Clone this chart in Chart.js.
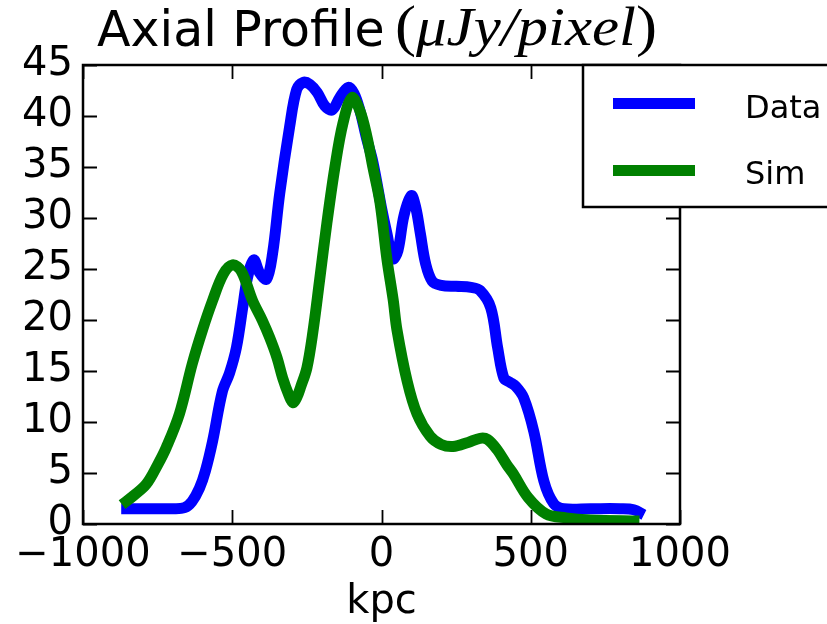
<!DOCTYPE html>
<html>
<head>
<meta charset="utf-8">
<script src="https://cdn.jsdelivr.net/npm/chart.js@4"></script>
<style>
html,body{margin:0;padding:0;background:#fff;}
#wrap{width:827px;height:624px;position:relative;}
</style>
</head>
<body>
<div id="wrap"><canvas id="c" width="827" height="624"></canvas></div>
<script>
// ---- data ----
const dataX = [-872,-800,-700,-660,-635,-610,-590,-566,-533,-509,-486,-465,-450,-428,-408,-385,-365,-341,-308,-284,-262,-240,-215,-190,-165,-140,-112,-92,-72,-50,-29,0,18,38,55,75,100,115,130,148,170,200,250,300,330,366,389,410,430,450,476,510,544,577,610,700,800,845,879];
const dataY = [1.5,1.5,1.5,1.6,2.2,3.5,5.2,8.1,13,14.8,17.3,21.2,24,25.9,24.6,24,26.5,32.4,38.9,42.6,43.3,43.1,42.3,41.0,40.6,41.8,42.8,42.2,40.5,37.8,35.5,31,28.5,26,26.8,30.2,32.2,31,28.5,25.5,23.8,23.4,23.3,23.2,22.9,21.2,17.3,14.3,13.9,13.5,12.4,9.1,4.2,2.0,1.5,1.5,1.5,1.4,0.9];
const simX = [-869,-830,-788,-750,-721,-677,-634,-600,-566,-530,-499,-470,-432,-400,-375,-350,-331,-310,-297,-284,-270,-250,-230,-207,-183,-156,-129,-99,-72,-49,-29,-5,18,39,52,86,119,163,200,240,290,330,355,387,420,442,491,551,618,700,864];
const simY = [1.9,2.8,3.9,5.8,7.5,10.8,15.7,19.0,21.9,24.5,25.4,24.8,21.9,20.0,18.3,16.3,14.3,12.6,11.9,12.4,13.5,15.3,18.8,24,29.5,35,39.3,41.8,40.5,38,35,31.5,26,22,19,14,10.8,8.6,7.8,7.6,8.0,8.4,8.3,7.3,5.8,4.9,2.6,1.0,0.6,0.4,0.3];
const seriesNames = ['Data','Sim'];
const xTicks = [-1000,-500,0,500,1000];
const xTickLabels = ['\u22121000','\u2212500','0','500','1000'];
const yTicks = [0,5,10,15,20,25,30,35,40,45];
const yTickLabels = ['0','5','10','15','20','25','30','35','40','45'];
const xLabel = 'kpc';
const titleMain = 'Axial Profile ';
const titleMath = '\u03bcJy/pixel';

const toPts = (xs, ys) => xs.map((x, i) => ({x: x, y: ys[i]}));

const frameAndDecor = {
  id: 'frameAndDecor',
  afterDatasetsDraw(chart) {
    const ctx = chart.ctx;
    const a = chart.chartArea;
    const xs = chart.scales.x, ys = chart.scales.y;
    ctx.save();
    ctx.strokeStyle = '#000';
    ctx.lineWidth = 2.5;
    ctx.strokeRect(a.left, a.top, a.right - a.left, a.bottom - a.top);
    ctx.lineWidth = 1.8;
    const tl = 14;
    ctx.beginPath();
    xTicks.forEach(v => {
      const px = Math.round(xs.getPixelForValue(v)) + 0.5;
      ctx.moveTo(px, a.bottom); ctx.lineTo(px, a.bottom - tl);
      ctx.moveTo(px, a.top); ctx.lineTo(px, a.top + tl);
    });
    yTicks.forEach(v => {
      const py = Math.round(ys.getPixelForValue(v)) + 0.5;
      ctx.moveTo(a.left, py); ctx.lineTo(a.left + tl, py);
      ctx.moveTo(a.right, py); ctx.lineTo(a.right - tl, py);
    });
    ctx.stroke();

    // title
    ctx.fillStyle = '#000';
    ctx.textBaseline = 'alphabetic';
    ctx.textAlign = 'left';
    ctx.font = '49px "DejaVu Sans"';
    ctx.fillText(titleMain, 97, 46);
    const parts = [
      {t: '(', f: '56px "Liberation Serif"'},
      {t: titleMath, f: 'italic 54px "Liberation Serif"'},
      {t: ')', f: '56px "Liberation Serif"'}
    ];
    let w = 0;
    parts.forEach(p => { ctx.font = p.f; p.w = ctx.measureText(p.t).width; w += p.w; });
    const target = 262;
    ctx.save();
    ctx.translate(395, 45);
    ctx.scale(target / w, 1);
    let cx = 0;
    parts.forEach(p => { ctx.font = p.f; ctx.fillText(p.t, cx, 0); cx += p.w; });
    ctx.restore();

    // x axis label
    ctx.font = '40px "DejaVu Sans"';
    ctx.textAlign = 'center';
    ctx.fillText(xLabel, xs.getPixelForValue(0), 613);

    // legend
    const lx = 583, ly = 65, lh = 142;
    ctx.fillStyle = '#fff';
    ctx.fillRect(lx, ly, 300, lh);
    ctx.strokeStyle = '#000';
    ctx.lineWidth = 2.5;
    ctx.strokeRect(lx, ly, 300, lh);
    const rows = [103.5, 170.5];
    const textRows = [110, 176];
    chart.data.datasets.forEach((ds, i) => {
      ctx.strokeStyle = ds.borderColor;
      ctx.lineWidth = 11;
      ctx.lineCap = 'butt';
      ctx.beginPath();
      ctx.moveTo(613, rows[i]); ctx.lineTo(695, rows[i]);
      ctx.stroke();
      ctx.fillStyle = '#000';
      ctx.font = '32px "DejaVu Sans"';
      ctx.textAlign = 'left';
      ctx.textBaseline = 'middle';
      ctx.fillText(ds.label, 745, textRows[i]);
    });
    ctx.restore();
  }
};

new Chart(document.getElementById('c'), {
  type: 'line',
  data: {
    datasets: [
      {label: seriesNames[0], data: toPts(dataX, dataY), borderColor: '#0000ff', borderWidth: 11, pointRadius: 0, tension: 0.35, fill: false, order: 1, borderJoinStyle: 'round', borderCapStyle: 'butt'},
      {label: seriesNames[1], data: toPts(simX, simY), borderColor: '#008000', borderWidth: 11, pointRadius: 0, tension: 0.35, fill: false, order: 0, borderJoinStyle: 'round', borderCapStyle: 'butt'}
    ]
  },
  options: {
    responsive: false,
    animation: false,
    events: [],
    layout: {padding: {left: 0, top: 65, right: 147, bottom: 0}},
    plugins: {legend: {display: false}, title: {display: false}, tooltip: {enabled: false}},
    scales: {
      x: {
        type: 'linear', min: -1000, max: 1000,
        afterBuildTicks: s => { s.ticks = xTicks.map(v => ({value: v})); },
        ticks: {
          font: {family: 'DejaVu Sans', size: 40}, color: '#000', padding: 8, maxRotation: 0, autoSkip: false,
          callback: (v) => xTickLabels[xTicks.indexOf(v)]
        },
        grid: {display: false, drawTicks: false},
        border: {display: false},
        afterFit: s => { s.height = 100; }
      },
      y: {
        type: 'linear', min: 0, max: 45,
        afterBuildTicks: s => { s.ticks = yTicks.map(v => ({value: v})); },
        ticks: {
          font: {family: 'DejaVu Sans', size: 40}, color: '#000', padding: 10, autoSkip: false,
          callback: (v) => yTickLabels[yTicks.indexOf(v)]
        },
        grid: {display: false, drawTicks: false},
        border: {display: false},
        afterFit: s => { s.width = 83; }
      }
    }
  },
  plugins: [frameAndDecor]
});
</script>
</body>
</html>
